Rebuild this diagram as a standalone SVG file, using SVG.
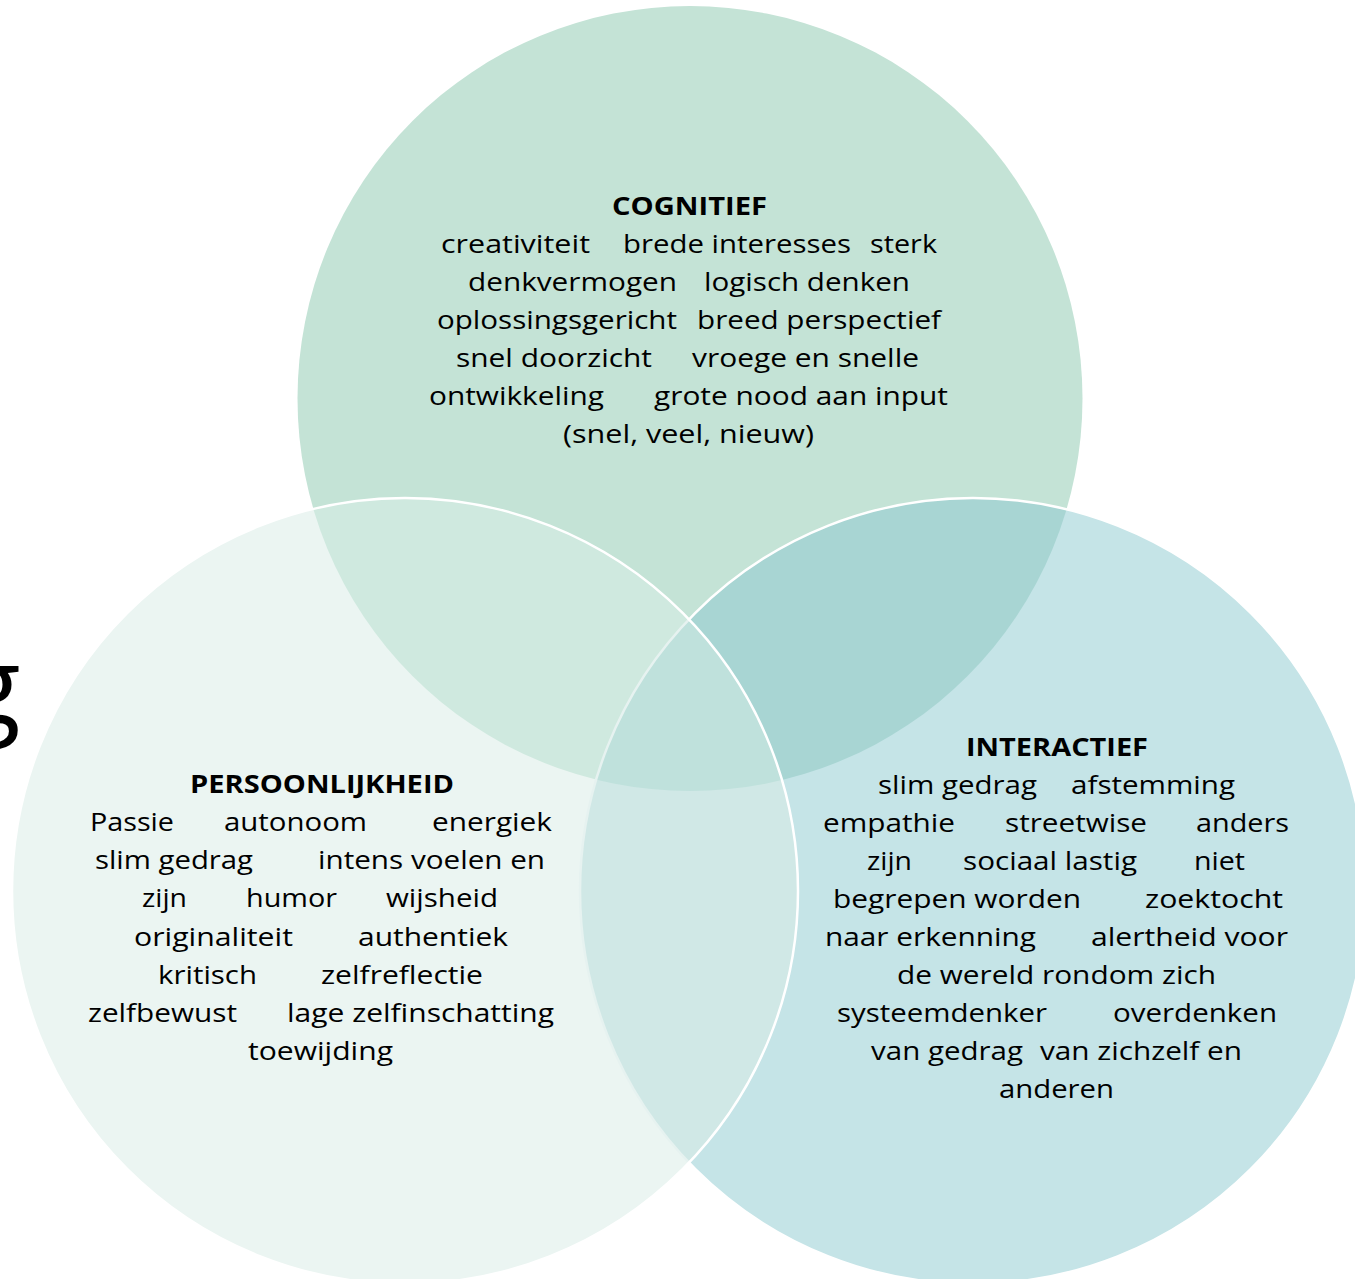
<svg xmlns="http://www.w3.org/2000/svg" width="1355" height="1279" viewBox="0 0 1355 1279">
<style>
.t{font-family:"Open Sans","Noto Sans","Liberation Sans",sans-serif;font-size:25px;fill:#000}
.h{font-weight:bold}
.ws{fill:none;stroke:#fff;stroke-width:2.5}
</style>
<defs>
<circle id="cTop" cx="690" cy="398.5" r="392.5"/>
<circle id="cLeft" cx="405" cy="891" r="393"/>
<circle id="cRight" cx="973" cy="891" r="393"/>
<clipPath id="clipTop"><use href="#cTop"/></clipPath>
<clipPath id="clipLeft"><use href="#cLeft"/></clipPath>
<clipPath id="clipRight"><use href="#cRight"/></clipPath>
</defs>
<rect width="1355" height="1279" fill="#fff"/>
<text x="-38" y="724" style="font-family:'Open Sans','Noto Sans',sans-serif;font-size:108px;fill:#000">g</text>

<g id="cognitief">
<use href="#cTop" fill="#C4E3D6"/>
<text class="t h" x="612" y="215" textLength="155" lengthAdjust="spacingAndGlyphs">COGNITIEF</text>
<text class="t" x="441" y="253" textLength="149" lengthAdjust="spacingAndGlyphs">creativiteit</text>
<text class="t" x="623" y="253" textLength="228" lengthAdjust="spacingAndGlyphs">brede interesses</text>
<text class="t" x="870" y="253" textLength="67" lengthAdjust="spacingAndGlyphs">sterk</text>
<text class="t" x="468" y="291" textLength="209" lengthAdjust="spacingAndGlyphs">denkvermogen</text>
<text class="t" x="704" y="291" textLength="206" lengthAdjust="spacingAndGlyphs">logisch denken</text>
<text class="t" x="437" y="329" textLength="240" lengthAdjust="spacingAndGlyphs">oplossingsgericht</text>
<text class="t" x="697" y="329" textLength="244" lengthAdjust="spacingAndGlyphs">breed perspectief</text>
<text class="t" x="456" y="367" textLength="196" lengthAdjust="spacingAndGlyphs">snel doorzicht</text>
<text class="t" x="692" y="367" textLength="227" lengthAdjust="spacingAndGlyphs">vroege en snelle</text>
<text class="t" x="429" y="405" textLength="175" lengthAdjust="spacingAndGlyphs">ontwikkeling</text>
<text class="t" x="654" y="405" textLength="294" lengthAdjust="spacingAndGlyphs">grote nood aan input</text>
<text class="t" x="563" y="443" textLength="251" lengthAdjust="spacingAndGlyphs">(snel, veel, nieuw)</text>
</g>

<g id="interactief">
<use href="#cRight" fill="#C5E4E7"/>
<use href="#cRight" fill="#A8D5D3" clip-path="url(#clipTop)"/>
<use href="#cRight" class="ws"/>
<text class="t h" x="966" y="756" textLength="182" lengthAdjust="spacingAndGlyphs">INTERACTIEF</text>
<text class="t" x="878" y="794" textLength="159" lengthAdjust="spacingAndGlyphs">slim gedrag</text>
<text class="t" x="1071" y="794" textLength="164" lengthAdjust="spacingAndGlyphs">afstemming</text>
<text class="t" x="823" y="832" textLength="132" lengthAdjust="spacingAndGlyphs">empathie</text>
<text class="t" x="1005" y="832" textLength="142" lengthAdjust="spacingAndGlyphs">streetwise</text>
<text class="t" x="1196" y="832" textLength="93" lengthAdjust="spacingAndGlyphs">anders</text>
<text class="t" x="867" y="870" textLength="45" lengthAdjust="spacingAndGlyphs">zijn</text>
<text class="t" x="963" y="870" textLength="174" lengthAdjust="spacingAndGlyphs">sociaal lastig</text>
<text class="t" x="1194" y="870" textLength="51" lengthAdjust="spacingAndGlyphs">niet</text>
<text class="t" x="833" y="908" textLength="248" lengthAdjust="spacingAndGlyphs">begrepen worden</text>
<text class="t" x="1145" y="908" textLength="138" lengthAdjust="spacingAndGlyphs">zoektocht</text>
<text class="t" x="825" y="946" textLength="211" lengthAdjust="spacingAndGlyphs">naar erkenning</text>
<text class="t" x="1091" y="946" textLength="197" lengthAdjust="spacingAndGlyphs">alertheid voor</text>
<text class="t" x="897" y="984" textLength="319" lengthAdjust="spacingAndGlyphs">de wereld rondom zich</text>
<text class="t" x="837" y="1022" textLength="210" lengthAdjust="spacingAndGlyphs">systeemdenker</text>
<text class="t" x="1113" y="1022" textLength="164" lengthAdjust="spacingAndGlyphs">overdenken</text>
<text class="t" x="871" y="1060" textLength="152" lengthAdjust="spacingAndGlyphs">van gedrag</text>
<text class="t" x="1040" y="1060" textLength="202" lengthAdjust="spacingAndGlyphs">van zichzelf en</text>
<text class="t" x="999" y="1098" textLength="115" lengthAdjust="spacingAndGlyphs">anderen</text>
</g>

<g id="persoonlijkheid">
<use href="#cLeft" fill="#EBF5F2"/>
<use href="#cLeft" fill="#CFE9DF" clip-path="url(#clipTop)"/>
<use href="#cLeft" fill="#D0E8E6" clip-path="url(#clipRight)"/>
<g clip-path="url(#clipRight)"><use href="#cLeft" fill="#BFE1DC" clip-path="url(#clipTop)"/></g>
<use href="#cRight" fill="none" stroke="#E6F2F0" stroke-width="2.5" clip-path="url(#clipLeft)"/>
<use href="#cLeft" class="ws"/>
<text class="t h" x="190" y="793" textLength="264" lengthAdjust="spacingAndGlyphs">PERSOONLIJKHEID</text>
<text class="t" x="90" y="831" textLength="84" lengthAdjust="spacingAndGlyphs">Passie</text>
<text class="t" x="224" y="831" textLength="143" lengthAdjust="spacingAndGlyphs">autonoom</text>
<text class="t" x="432" y="831" textLength="120" lengthAdjust="spacingAndGlyphs">energiek</text>
<text class="t" x="95" y="869" textLength="158" lengthAdjust="spacingAndGlyphs">slim gedrag</text>
<text class="t" x="318" y="869" textLength="227" lengthAdjust="spacingAndGlyphs">intens voelen en</text>
<text class="t" x="142" y="907" textLength="45" lengthAdjust="spacingAndGlyphs">zijn</text>
<text class="t" x="246" y="907" textLength="91" lengthAdjust="spacingAndGlyphs">humor</text>
<text class="t" x="386" y="907" textLength="112" lengthAdjust="spacingAndGlyphs">wijsheid</text>
<text class="t" x="134" y="946" textLength="159" lengthAdjust="spacingAndGlyphs">originaliteit</text>
<text class="t" x="358" y="946" textLength="150" lengthAdjust="spacingAndGlyphs">authentiek</text>
<text class="t" x="158" y="984" textLength="99" lengthAdjust="spacingAndGlyphs">kritisch</text>
<text class="t" x="321" y="984" textLength="162" lengthAdjust="spacingAndGlyphs">zelfreflectie</text>
<text class="t" x="88" y="1022" textLength="149" lengthAdjust="spacingAndGlyphs">zelfbewust</text>
<text class="t" x="287" y="1022" textLength="267" lengthAdjust="spacingAndGlyphs">lage zelfinschatting</text>
<text class="t" x="248" y="1060" textLength="145" lengthAdjust="spacingAndGlyphs">toewijding</text>
</g>
</svg>
